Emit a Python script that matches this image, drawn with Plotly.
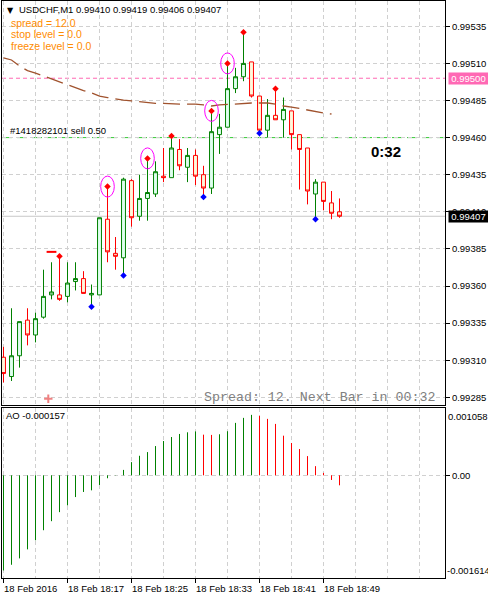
import plotly.graph_objects as go

# ---------------- data ----------------
bars = list(range(43))  # one-minute bars, 18:09 ... 18:51
opens = [0.99312, 0.99299, 0.99313, 0.99337, 0.99327, 0.99339, 0.99354, 0.99354, 0.99353, 0.99363,
         0.99365, 0.99354, 0.99354, 0.99405, 0.99382, 0.99379, 0.99431, 0.99407, 0.99419, 0.99422,
         0.99434, 0.99433, 0.99452, 0.99440, 0.99448, 0.99435, 0.99426, 0.99462, 0.99467, 0.99493,
         0.99501, 0.99511, 0.99488, 0.99465, 0.99475, 0.99472, 0.99478, 0.99462, 0.99453, 0.99422,
         0.99430, 0.99416, 0.99410]
highs = [0.99319, 0.99345, 0.99336, 0.99345, 0.99342, 0.99371, 0.99376, 0.99380, 0.99376, 0.99376,
         0.99370, 0.99361, 0.99406, 0.99427, 0.99393, 0.99433, 0.99432, 0.99435, 0.99446, 0.99444,
         0.99453, 0.99461, 0.99459, 0.99453, 0.99452, 0.99441, 0.99478, 0.99476, 0.99510, 0.99507,
         0.99531, 0.99511, 0.99488, 0.99486, 0.99493, 0.99487, 0.99478, 0.99462, 0.99453, 0.99432,
         0.99430, 0.99424, 0.99419]
lows = [0.99295, 0.99296, 0.99305, 0.99320, 0.99322, 0.99338, 0.99351, 0.99350, 0.99349, 0.99357,
        0.99355, 0.99346, 0.99354, 0.99376, 0.99371, 0.99367, 0.99400, 0.99404, 0.99404, 0.99420,
        0.99430, 0.99433, 0.99438, 0.99430, 0.99428, 0.99420, 0.99422, 0.99449, 0.99467, 0.99490,
        0.99498, 0.99487, 0.99463, 0.99460, 0.99472, 0.99460, 0.99452, 0.99425, 0.99415, 0.99405,
        0.99411, 0.99405, 0.99406]
closes = [0.99301, 0.99313, 0.99336, 0.99327, 0.99338, 0.99353, 0.99356, 0.99351, 0.99362, 0.99365,
          0.99355, 0.99355, 0.99406, 0.99383, 0.99380, 0.99432, 0.99406, 0.99419, 0.99423, 0.99437,
          0.99433, 0.99453, 0.99441, 0.99448, 0.99434, 0.99426, 0.99464, 0.99467, 0.99493, 0.99501,
          0.99510, 0.99488, 0.99465, 0.99475, 0.99472, 0.99479, 0.99462, 0.99452, 0.99424, 0.99430,
          0.99417, 0.99409, 0.99407]
ma_values = [0.995138, 0.995123, 0.995083, 0.995051, 0.995035, 0.995015, 0.994995, 0.994975, 0.994954,
             0.994934, 0.994917, 0.994901, 0.994880, 0.994870, 0.994860, 0.994853, 0.994847, 0.994840,
             0.994833, 0.994831, 0.994831, 0.994826, 0.994826, 0.994826, 0.994826, 0.994820, 0.994813,
             0.994820, 0.994823, 0.994830, 0.994833, 0.994833, 0.994833, 0.994833, 0.994826, 0.994813,
             0.994806, 0.994796, 0.994786, 0.994773, 0.994766, 0.994759]
ao_values = [-0.001496, -0.001406, -0.001306, -0.001164, -0.001021, -0.000863, -0.000721, -0.000579,
             -0.000473, -0.000342, -0.000262, -0.000236, -0.000152, -0.000046, 0.000004, 0.000085,
             0.000207, 0.000307, 0.000365, 0.000460, 0.000539, 0.000602, 0.000650, 0.000676, 0.000690,
             0.000639, 0.000635, 0.000645, 0.000693, 0.000824, 0.000903, 0.000950, 0.000934, 0.000887,
             0.000808, 0.000623, 0.000508, 0.000413, 0.000302, 0.000144, 0.000038, -0.000073, -0.000157]
up_fractal_bars = [7, 13, 18, 21, 26, 28, 30, 34]
down_fractal_bars = [11, 15, 25, 32, 39]
circled_bars = [13, 18, 26, 28]
price_ticks = [0.99285, 0.99310, 0.99335, 0.99360, 0.99385, 0.99410, 0.99435, 0.99460, 0.99485, 0.99510, 0.99535]
time_label_bars = [0, 8, 16, 24, 32, 40]
time_labels = ["18 Feb 2016", "18 Feb 18:17", "18 Feb 18:25", "18 Feb 18:33", "18 Feb 18:41", "18 Feb 18:49"]
bid_price = 0.99407
alert_price = 0.99500
order_price = 0.99460
order_text = "#1418282101 sell 0.50"
sell_mark_bar, sell_mark_price = 6, 0.99383
arrow_mark_bar, arrow_mark_price = 5.6, 0.99284
ao_max, ao_min = 0.001058, -0.001614
header = "USDCHF,M1 0.99410 0.99419 0.99406 0.99407"
info_lines = ["spread = 12.0", "stop level = 0.0", "freeze level = 0.0"]
ao_title = "AO -0.000157"
timer_text = "0:32"
spread_text = "Spread: 12. Next Bar in 00:32"

# ---------------- layout geometry ----------------
W, H = 488, 600
ML, MR, MT, MB = 2, 43, 1, 22
PW, PH = W - ML - MR, H - MT - MB
MAIN_TOP, MAIN_BOT, AO_TOP, AO_BOT = 1, 405, 408, 578
price_range = [0.9927981, 0.9955205]
x_range = [-0.1875, 55.1875]
ppx = (price_range[1] - price_range[0]) / (MAIN_BOT - MAIN_TOP)

def fx(p):
    return (p - ML) / PW

def fy(p):
    return (H - MB - p) / PH

GRID = "#D0D0D0"
FONT = "Liberation Sans, Arial, sans-serif"

fig = go.Figure()

fig.add_trace(go.Candlestick(
    x=bars, open=opens, high=highs, low=lows, close=closes,
    increasing=dict(line=dict(color="#008000", width=1), fillcolor="#E0FFF0"),
    decreasing=dict(line=dict(color="#FF0000", width=1), fillcolor="#FFF8DC"),
    whiskerwidth=0, hoverinfo="skip", xaxis="x", yaxis="y"))

fig.add_trace(go.Scatter(
    x=bars[:len(ma_values)], y=ma_values, mode="lines",
    line=dict(color="#A0522D", width=1.3, dash="17px,7px"), xaxis="x", yaxis="y"))

fig.add_trace(go.Scatter(
    x=up_fractal_bars, y=[highs[b] for b in up_fractal_bars], mode="markers",
    marker=dict(symbol="diamond", size=5, color="#FF0000"), xaxis="x", yaxis="y"))
fig.add_trace(go.Scatter(
    x=down_fractal_bars, y=[lows[b] for b in down_fractal_bars], mode="markers",
    marker=dict(symbol="diamond", size=5, color="#0000FF"), xaxis="x", yaxis="y"))

fig.add_trace(go.Scatter(
    x=[sell_mark_bar], y=[sell_mark_price], mode="markers",
    marker=dict(symbol="line-ew", size=7, line=dict(color="#FF0000", width=2)), xaxis="x", yaxis="y"))
fig.add_trace(go.Scatter(
    x=[arrow_mark_bar], y=[arrow_mark_price], mode="markers",
    marker=dict(symbol="cross-thin", size=6, line=dict(color="#F08080", width=2)), xaxis="x", yaxis="y"))

# AO histogram drawn as 1px vertical sticks, green when rising, red when falling
rising = [True] + [ao_values[i] > ao_values[i - 1] for i in range(1, len(ao_values))]
for flag, color in [(True, "#008000"), (False, "#FF0000")]:
    xs, ys = [], []
    for i, v in enumerate(ao_values):
        if rising[i] == flag:
            xs += [bars[i], bars[i], None]
            ys += [0, v, None]
    fig.add_trace(go.Scatter(x=xs, y=ys, mode="lines", line=dict(color=color, width=1),
                             xaxis="x2", yaxis="y2", hoverinfo="skip"))

shapes = []
for price, color, dash in [(alert_price, "#FF69B4", "4px,3px"),
                           (order_price, "#32CD32", "10px,5px"),
                           (bid_price, "#C8C8C8", "solid")]:
    shapes.append(dict(type="line", xref="paper", yref="y", x0=0, x1=1, y0=price, y1=price,
                       line=dict(color=color, width=1, dash=dash), layer="between"))
for b in circled_bars:
    shapes.append(dict(type="circle", xref="x", yref="y", x0=b - 0.85, x1=b + 0.85,
                       y0=highs[b] - 10.5 * ppx, y1=highs[b] + 10.5 * ppx,
                       line=dict(color="#FF00FF", width=1)))
for b in time_label_bars:
    shapes.append(dict(type="line", xref="x2", yref="paper", x0=b, x1=b, y0=0, y1=fy(AO_BOT + 5),
                       line=dict(color="black", width=1)))

ann = []
ann.append(dict(xref="paper", yref="paper", x=fx(5), y=fy(10.5), text="▼", showarrow=False,
                xanchor="left", yanchor="middle", font=dict(size=8, color="black", family="DejaVu Sans")))
ann.append(dict(xref="paper", yref="paper", x=fx(17), y=fy(10), text=header, showarrow=False,
                xanchor="left", yanchor="middle", font=dict(size=9.5, color="black", family=FONT)))
for k, t in enumerate(info_lines):
    ann.append(dict(xref="paper", yref="paper", x=fx(8.5), y=fy(23 + 11.5 * k), text=t, showarrow=False,
                    xanchor="left", yanchor="middle", font=dict(size=10.5, color="#FF8C00", family=FONT)))
ann.append(dict(xref="paper", yref="y", x=fx(8), y=order_price, yshift=7, text=order_text, showarrow=False,
                xanchor="left", yanchor="middle", font=dict(size=9.5, color="black", family=FONT)))
ann.append(dict(xref="paper", yref="paper", x=fx(385.5), y=fy(151), text="<b>" + timer_text + "</b>",
                showarrow=False, xanchor="center", yanchor="middle",
                font=dict(size=15, color="black", family=FONT)))
ann.append(dict(xref="paper", yref="paper", x=fx(437), y=fy(397), text=spread_text, showarrow=False,
                xanchor="right", yanchor="middle",
                font=dict(size=13.3, color="#808080", family="Liberation Mono, Courier New, monospace")))
ann.append(dict(xref="paper", yref="paper", x=fx(4), y=fy(416), text=ao_title, showarrow=False,
                xanchor="left", yanchor="middle", font=dict(size=9.5, color="black", family=FONT)))
ann.append(dict(xref="paper", yref="y", x=1, xshift=3, y=alert_price, text=f"{alert_price:.5f}", showarrow=False,
                xanchor="left", yanchor="middle", bgcolor="#FF69B4", width=39, height=11, borderpad=0,
                font=dict(size=9.5, color="white", family=FONT)))
ann.append(dict(xref="paper", yref="y", x=1, xshift=3, y=bid_price, text=f"{bid_price:.5f}", showarrow=False,
                xanchor="left", yanchor="middle", bgcolor="black", width=39, height=11, borderpad=0,
                font=dict(size=9.5, color="white", family=FONT)))
ann.append(dict(xref="paper", yref="y2 domain", x=1, xshift=1, y=1, yshift=-1, text=f"{ao_max:.6f}",
                showarrow=False, xanchor="left", yanchor="top", font=dict(size=9.5, color="black", family=FONT)))
ann.append(dict(xref="paper", yref="y2 domain", x=1, xshift=0, y=0, yshift=0, text=f"{ao_min:.6f}",
                showarrow=False, xanchor="left", yanchor="bottom", font=dict(size=9.5, color="black", family=FONT)))
for b, t in zip(time_label_bars, time_labels):
    ann.append(dict(xref="x2", yref="paper", x=b, xshift=-2, y=fy(588), text=t, showarrow=False,
                    xanchor="left", yanchor="middle", font=dict(size=9.5, color="black", family=FONT)))

fig.update_layout(
    width=W, height=H, margin=dict(l=ML, r=MR, t=MT, b=MB),
    paper_bgcolor="white", plot_bgcolor="white", showlegend=False, hovermode=False,
    font=dict(family=FONT, size=9.5, color="black"),
    boxgap=0.3, boxgroupgap=0.3,
    shapes=shapes, annotations=ann,
    xaxis=dict(domain=[0, 1], anchor="y", range=x_range, rangeslider=dict(visible=False),
               tick0=0, dtick=4, showgrid=True, gridcolor=GRID, griddash="4px,3px", gridwidth=1,
               showticklabels=False, ticks="", zeroline=False,
               showline=True, mirror=True, linecolor="black", linewidth=1),
    yaxis=dict(domain=[fy(MAIN_BOT), 1], anchor="x", range=price_range, side="right",
               tickvals=price_ticks, ticktext=[f"{p:.5f}" for p in price_ticks],
               showgrid=True, gridcolor=GRID, griddash="4px,3px", gridwidth=1,
               ticks="outside", ticklen=4, tickcolor="black", tickfont=dict(size=9.5),
               zeroline=False, showline=True, mirror=True, linecolor="black", linewidth=1),
    xaxis2=dict(domain=[0, 1], anchor="y2", matches="x", range=x_range,
                tick0=0, dtick=4, showgrid=True, gridcolor=GRID, griddash="4px,3px", gridwidth=1,
                showticklabels=False, ticks="", zeroline=False,
                showline=True, mirror=True, linecolor="black", linewidth=1),
    yaxis2=dict(domain=[0, fy(AO_TOP)], anchor="x2", range=[ao_min, ao_max], side="right",
                tickvals=[0], ticktext=["0.00"], showgrid=True, gridcolor=GRID, griddash="4px,3px",
                ticks="outside", ticklen=4, tickcolor="black", tickfont=dict(size=9.5),
                zeroline=False, showline=True, mirror=True, linecolor="black", linewidth=1),
)

fig.write_html("out.html")
